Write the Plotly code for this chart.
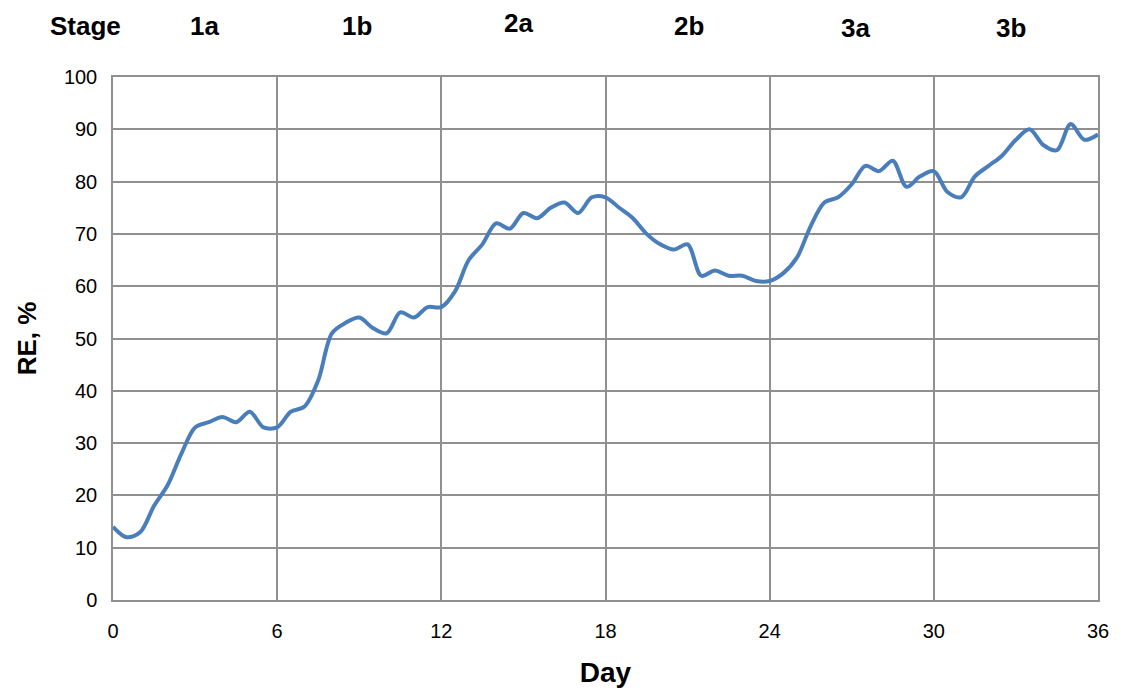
import plotly.graph_objects as go

days = [i * 0.5 for i in range(73)]
re_values = [14, 12, 13, 18, 22, 28, 33, 34, 35, 34,
             36, 33, 33, 36, 37, 42, 51, 53, 54, 52,
             51, 55, 54, 56, 56, 59, 65, 68, 72, 71,
             74, 73, 75, 76, 74, 77, 77, 75, 73, 70,
             68, 67, 68, 62, 63, 62, 62, 61, 61, 62.5,
             65.5, 71.5, 76, 77, 79.5, 83, 82, 84, 79, 81,
             82, 78, 77, 81, 83, 85, 88, 90, 87, 86,
             91, 88, 89]

stage_labels = ["Stage", "1a", "1b", "2a", "2b", "3a", "3b"]
stage_x = [-0.028, 0.093, 0.248, 0.412, 0.585, 0.754, 0.912]
stage_y = [1.098, 1.098, 1.098, 1.104, 1.098, 1.093, 1.093]

x_ticks = [0, 6, 12, 18, 24, 30, 36]
y_ticks = list(range(0, 101, 10))

FONT = "Liberation Sans, Arial, sans-serif"

fig = go.Figure()
fig.add_trace(go.Scatter(
    x=days, y=re_values, mode="lines",
    line=dict(color="#4a7ebb", width=4, shape="spline", smoothing=0.9),
    showlegend=False, hoverinfo="x+y"))

for lab, sx, sy in zip(stage_labels, stage_x, stage_y):
    fig.add_annotation(x=sx, y=sy, xref="paper", yref="paper", text="<b>%s</b>" % lab,
                       showarrow=False, font=dict(family=FONT, size=26, color="black"),
                       xanchor="center", yanchor="middle")

axis_common = dict(showline=True, linecolor="#909090", linewidth=1.5, mirror=True,
                   showgrid=True, gridcolor="#909090", gridwidth=1.5, zeroline=False,
                   ticks="", tickfont=dict(family=FONT, size=20, color="black"))

fig.update_xaxes(range=[0, 36], tickvals=x_ticks, ticklabelstandoff=12,
                 title=dict(text="<b>Day</b>", font=dict(family=FONT, size=28, color="black"),
                            standoff=22),
                 **axis_common)
fig.update_yaxes(range=[0, 100], tickvals=y_ticks, ticklabelstandoff=10,
                 title=dict(text="<b>RE, %</b>", font=dict(family=FONT, size=26, color="black"),
                            standoff=20),
                 **axis_common)

fig.update_layout(width=1113, height=687, plot_bgcolor="white", paper_bgcolor="white",
                  margin=dict(l=105, r=18, t=69, b=85), font=dict(family=FONT))

fig.write_html("out.html")
